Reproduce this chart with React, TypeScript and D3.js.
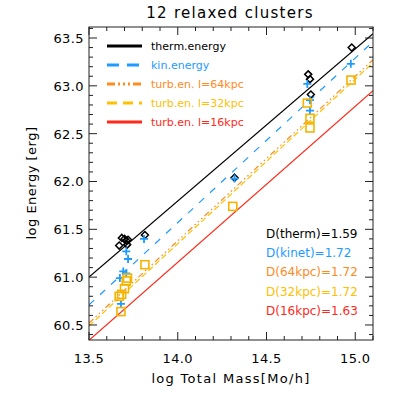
import React from 'react';
import * as d3 from 'd3';

// values
const thermMass = [13.67, 13.685, 13.70, 13.71, 13.715, 13.72, 13.815, 14.32, 14.735, 14.745, 14.75, 14.98];
const thermE = [61.33, 61.41, 61.40, 61.38, 61.34, 61.39, 61.44, 62.04, 63.12, 63.07, 62.91, 63.40];

const kinMass = [13.71, 13.72, 13.693, 13.674, 13.68, 13.71, 13.81, 14.32, 14.73, 14.745, 14.745, 14.975];
const kinE = [61.27, 61.19, 61.06, 60.99, 60.72, 61.04, 61.40, 62.03, 63.02, 62.85, 62.74, 63.23];

const turbMass = [13.815, 13.717, 13.71, 13.70, 13.684, 13.67, 13.68, 14.31, 14.73, 14.745, 14.745, 14.976];
const turbE = [61.13, 60.99, 60.96, 60.88, 60.82, 60.80, 60.64, 61.74, 62.82, 62.66, 62.56, 63.06];

const fitNames = ['therm.energy', 'kin.energy', 'turb.en. l=64kpc', 'turb.en. l=32kpc', 'turb.en. l=16kpc'];
const fitLabels = ['D(therm)=1.59', 'D(kinet)=1.72', 'D(64kpc)=1.72', 'D(32kpc)=1.72', 'D(16kpc)=1.63'];
const fitSlope = [1.59, 1.72, 1.72, 1.72, 1.63];
const fitAt135 = [61.0, 60.71, 60.52, 60.49, 60.34];
const fitColor = ['#000000', '#1e9bff', '#ff8a1e', '#ffc000', '#ff2a1a'];
const fitDash = [null, '7,8', '6,3,1.5,3,1.5,3,1.5,3', '6,3', null];
const legendDash = [null, '12,8', '8,3,2,3,2,3,2,3', '10,6', null];

const xMajor = [13.5, 14.0, 14.5, 15.0];
const yMajor = [60.5, 61.0, 61.5, 62.0, 62.5, 63.0, 63.5];

const W = 399, H = 399;
const m = { left: 89, right: 373, top: 27, bottom: 340 };

export default function App() {
  const x = d3.scaleLinear().domain([13.5, 15.1]).range([m.left, m.right]);
  const y = d3.scaleLinear().domain([60.343, 63.615]).range([m.bottom, m.top]);
  const xMinor = d3.range(13.5, 15.1001, 0.1);
  const yMinor = d3.range(60.4, 63.61, 0.1);
  const font = 'DejaVu Sans, sans-serif';
  const line = d3.line<number>().x(d => x(d[0])).y(d => y(d[1]));

  return (
    <svg width={W} height={H} style={{ position: 'absolute', left: 0, top: 0, background: '#fff' }} fontFamily={font}>
      <defs>
        <clipPath id="plot">
          <rect x={m.left} y={m.top} width={m.right - m.left} height={m.bottom - m.top} />
        </clipPath>
      </defs>
      <text x={230} y={18} textAnchor="middle" fontSize={15} letterSpacing={1.3}>12 relaxed clusters</text>

      {/* fit lines */}
      <g clipPath="url(#plot)">
        {fitSlope.map((s, i) => {
          const pts = x.domain().map(v => [v, fitAt135[i] + s * (v - 13.5)]);
          return <path key={i} d={line(pts as any) || ''} fill="none" stroke={fitColor[i]} strokeWidth={1.2}
            strokeDasharray={fitDash[i] || undefined} />;
        })}
      </g>

      {/* markers */}
      {thermMass.map((v, i) => (
        <path key={'t' + i} transform={`translate(${x(v)},${y(thermE[i])})`} d="M0,-3.5L3.5,0L0,3.5L-3.5,0Z"
          fill="none" stroke="#000" strokeWidth={1.5} />
      ))}
      {kinMass.map((v, i) => (
        <path key={'k' + i} transform={`translate(${x(v)},${y(kinE[i])})`} d="M-4,0H4M0,-4V4"
          stroke="#1e9bff" strokeWidth={1.8} />
      ))}
      {turbMass.map((v, i) => (
        <rect key={'q' + i} x={x(v) - 4} y={y(turbE[i]) - 4} width={8} height={8}
          fill="none" stroke="#f5b400" strokeWidth={1.6} />
      ))}

      {/* frame and ticks */}
      <rect x={m.left} y={m.top} width={m.right - m.left} height={m.bottom - m.top} fill="none" stroke="#222" strokeWidth={1} />
      {xMinor.map((v, i) => {
        const major = xMajor.some(t => Math.abs(t - v) < 1e-6);
        const l = major ? 8 : 4;
        return (
          <g key={'xt' + i} stroke="#222">
            <line x1={x(v)} x2={x(v)} y1={m.bottom} y2={m.bottom - l} />
            <line x1={x(v)} x2={x(v)} y1={m.top} y2={m.top + l} />
          </g>
        );
      })}
      {yMinor.map((v, i) => {
        const major = yMajor.some(t => Math.abs(t - v) < 1e-6);
        const l = major ? 8 : 4;
        return (
          <g key={'yt' + i} stroke="#222">
            <line x1={m.left} x2={m.left + l} y1={y(v)} y2={y(v)} />
            <line x1={m.right} x2={m.right - l} y1={y(v)} y2={y(v)} />
          </g>
        );
      })}
      {xMajor.map(v => (
        <text key={'xl' + v} x={x(v)} y={363} textAnchor="middle" fontSize={13} letterSpacing={0.4}>{v.toFixed(1)}</text>
      ))}
      {yMajor.map(v => (
        <text key={'yl' + v} x={84} y={y(v) + 5} textAnchor="end" fontSize={13} letterSpacing={0.4}>{v.toFixed(1)}</text>
      ))}
      <text x={231} y={383} textAnchor="middle" fontSize={13} letterSpacing={1.3}>log Total Mass[Mo/h]</text>
      <text transform="translate(36,183) rotate(-90)" textAnchor="middle" fontSize={13} letterSpacing={0.5}>log Energy [erg]</text>

      {/* legend */}
      {fitNames.map((n, i) => {
        const ly = 46 + i * 19;
        return (
          <g key={'lg' + i}>
            <line x1={107} x2={142} y1={ly} y2={ly} stroke={fitColor[i]} strokeWidth={3}
              strokeDasharray={legendDash[i] || undefined} />
            <text x={151} y={ly + 4} fontSize={11} fill={fitColor[i]}>{n}</text>
          </g>
        );
      })}
      {fitLabels.map((t, i) => (
        <text key={'dl' + i} x={266} y={238 + i * 19.2} fontSize={12} fill={fitColor[i]}>{t}</text>
      ))}
    </svg>
  );
}
